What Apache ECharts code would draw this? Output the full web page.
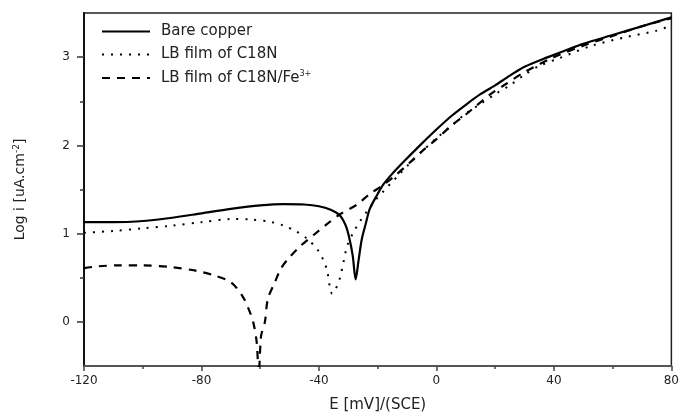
<!DOCTYPE html>
<html>
<head>
<meta charset="utf-8">
<script src="https://cdn.jsdelivr.net/npm/echarts@6/dist/echarts.min.js"></script>
<style>
html, body { margin: 0; padding: 0; background: #fff; }
#container { width: 682px; height: 418px; }
</style>
</head>
<body>
<div id="container"></div>
<script>
// E (mV) vs log i
var bareCopper = [
    [-120, 1.13], [-110, 1.13], [-101, 1.14], [-90, 1.18], [-80, 1.23], [-70, 1.28],
    [-60, 1.32], [-52, 1.335], [-45, 1.33], [-40, 1.31], [-36, 1.27], [-33, 1.21],
    [-31, 1.1], [-29.8, 0.97], [-28.5, 0.75], [-27.5, 0.48], [-26.5, 0.7], [-25.4, 0.94],
    [-24, 1.12], [-22.7, 1.28], [-20, 1.45], [-18, 1.56], [-15, 1.68], [-11, 1.82],
    [-5, 2.02], [0, 2.18], [5, 2.33], [10, 2.46], [15, 2.58], [20, 2.68], [25, 2.79],
    [30, 2.89], [38, 3.0], [45, 3.09], [50, 3.15], [60, 3.25], [70, 3.35], [80, 3.45]
];
var lbFilm = [
    [-120, 1.01], [-110, 1.03], [-100, 1.06], [-90, 1.09], [-80, 1.13], [-70, 1.165],
    [-63, 1.16], [-56, 1.13], [-52, 1.09], [-48, 1.03], [-44, 0.94], [-40.5, 0.82],
    [-38.5, 0.7], [-37.2, 0.58], [-36.2, 0.38], [-35.5, 0.32], [-34.5, 0.36], [-33, 0.48],
    [-31.5, 0.7], [-30.4, 0.86], [-28.5, 1.0], [-26, 1.14], [-23.7, 1.25], [-21, 1.37],
    [-18, 1.48], [-15, 1.59], [-12.6, 1.67], [-9, 1.8], [-5, 1.93], [0, 2.08], [5, 2.22],
    [10, 2.36], [15, 2.47], [20, 2.58], [25, 2.68], [30, 2.8], [35, 2.9], [42, 2.99],
    [53, 3.13], [65, 3.23], [75, 3.3], [80, 3.36]
];
var lbFilmFe = [
    [-120, 0.61], [-115, 0.63], [-108, 0.64], [-100, 0.64], [-90, 0.62], [-82, 0.58],
    [-76, 0.53], [-70, 0.45], [-66, 0.29], [-64, 0.15], [-62.4, 0.0], [-61.2, -0.23],
    [-60.5, -0.6], [-59.7, -0.16], [-58.4, 0.0], [-57.4, 0.26], [-55, 0.45], [-53, 0.6],
    [-50.6, 0.71], [-46.3, 0.86], [-41.6, 0.99], [-37.2, 1.11], [-32.8, 1.22], [-27, 1.33],
    [-22.7, 1.45], [-18.6, 1.54], [-14, 1.66], [-9.2, 1.8], [-5, 1.93], [0, 2.07],
    [5, 2.22], [10, 2.35], [13.3, 2.44], [18, 2.57], [23.4, 2.69], [30, 2.83],
    [40, 3.0], [50, 3.13], [60, 3.24], [70, 3.35], [80, 3.44]
];
var seriesNames = ['Bare copper', 'LB film of C18N', 'LB film of C18N/Fe3+'];
var yMajor = [0, 1, 2, 3];
var yMinor = [0.5, 1.5, 2.5];

var fontName = 'DejaVu Sans';
var dom = document.getElementById("container");
var myChart = echarts.init(dom);
var option = {
    animation: false,
    grid: {
        left: 84, right: 4, top: 13, bottom: 50,
        show: true, borderColor: '#222', borderWidth: 1.5
    },
    legend: {
        orient: 'vertical',
        left: 96, top: 19,
        itemWidth: 48, itemHeight: 14, itemGap: 8,
        data: seriesNames,
        itemStyle: { opacity: 0 },
        formatter: function (name) {
            if (name === 'LB film of C18N/Fe3+') return 'LB film of C18N/Fe{sup|3+}';
            return name;
        },
        textStyle: {
            fontFamily: fontName, fontSize: 15, color: '#222',
            padding: [0, 0, 0, 6],
            rich: {
                sup: { fontFamily: fontName, fontSize: 8, color: '#222', verticalAlign: 'top', padding: [0, 0, 8, 0] }
            }
        }
    },
    xAxis: {
        type: 'value',
        min: -120, max: 80, interval: 40,
        name: 'E [mV]/(SCE)',
        nameLocation: 'middle', nameGap: 32,
        nameTextStyle: { fontFamily: fontName, fontSize: 15, color: '#222' },
        axisLine: { onZero: false, lineStyle: { color: '#555', width: 2 } },
        axisTick: { show: true, inside: false, length: 5, lineStyle: { color: '#444', width: 1.5 } },
        minorTick: { show: true, splitNumber: 2, length: 3, lineStyle: { color: '#444', width: 1.5 } },
        axisLabel: { fontFamily: fontName, fontSize: 12, color: '#222', margin: 9 },
        splitLine: { show: false }
    },
    yAxis: [{
        type: 'value',
        min: -0.5, max: 3.5, interval: 0.5,
        name: 'Log i [uA.cm{sup|-2}]',
        nameLocation: 'middle', nameGap: 56, nameRotate: 90,
        nameTextStyle: {
            fontFamily: fontName, fontSize: 14, color: '#222',
            rich: {
                sup: { fontFamily: fontName, fontSize: 9, color: '#222', verticalAlign: 'top', padding: [0, 0, 7, 0] }
            }
        },
        axisLine: { onZero: false, lineStyle: { color: '#111', width: 2 } },
        axisTick: { show: true, inside: false, length: 7, customValues: yMajor, lineStyle: { color: '#333', width: 1.5 } },
        axisLabel: { fontFamily: fontName, fontSize: 12, color: '#222', margin: 14, customValues: yMajor },
        splitLine: { show: false }
    }, {
        type: 'value',
        position: 'left',
        min: -0.5, max: 3.5, interval: 0.5,
        axisLine: { show: false, onZero: false },
        axisTick: { show: true, inside: false, length: 4, customValues: yMinor, lineStyle: { color: '#333', width: 1.5 } },
        axisLabel: { show: false },
        splitLine: { show: false }
    }],
    series: [{
        name: seriesNames[0],
        type: 'line',
        data: bareCopper,
        symbol: 'none',
        smooth: 0.3,
        lineStyle: { color: '#000', width: 2.2, type: 'solid' },
        itemStyle: { color: '#000' }
    }, {
        name: seriesNames[1],
        type: 'line',
        data: lbFilm,
        symbol: 'none',
        smooth: 0.3,
        lineStyle: { color: '#000', width: 2, type: [2, 7] },
        itemStyle: { color: '#000' }
    }, {
        name: seriesNames[2],
        type: 'line',
        data: lbFilmFe,
        symbol: 'none',
        smooth: 0.3,
        lineStyle: { color: '#000', width: 2.2, type: [8, 7] },
        itemStyle: { color: '#000' }
    }]
};
if (option && typeof option === "object") {
    myChart.setOption(option, true);
}
</script>
</body>
</html>
